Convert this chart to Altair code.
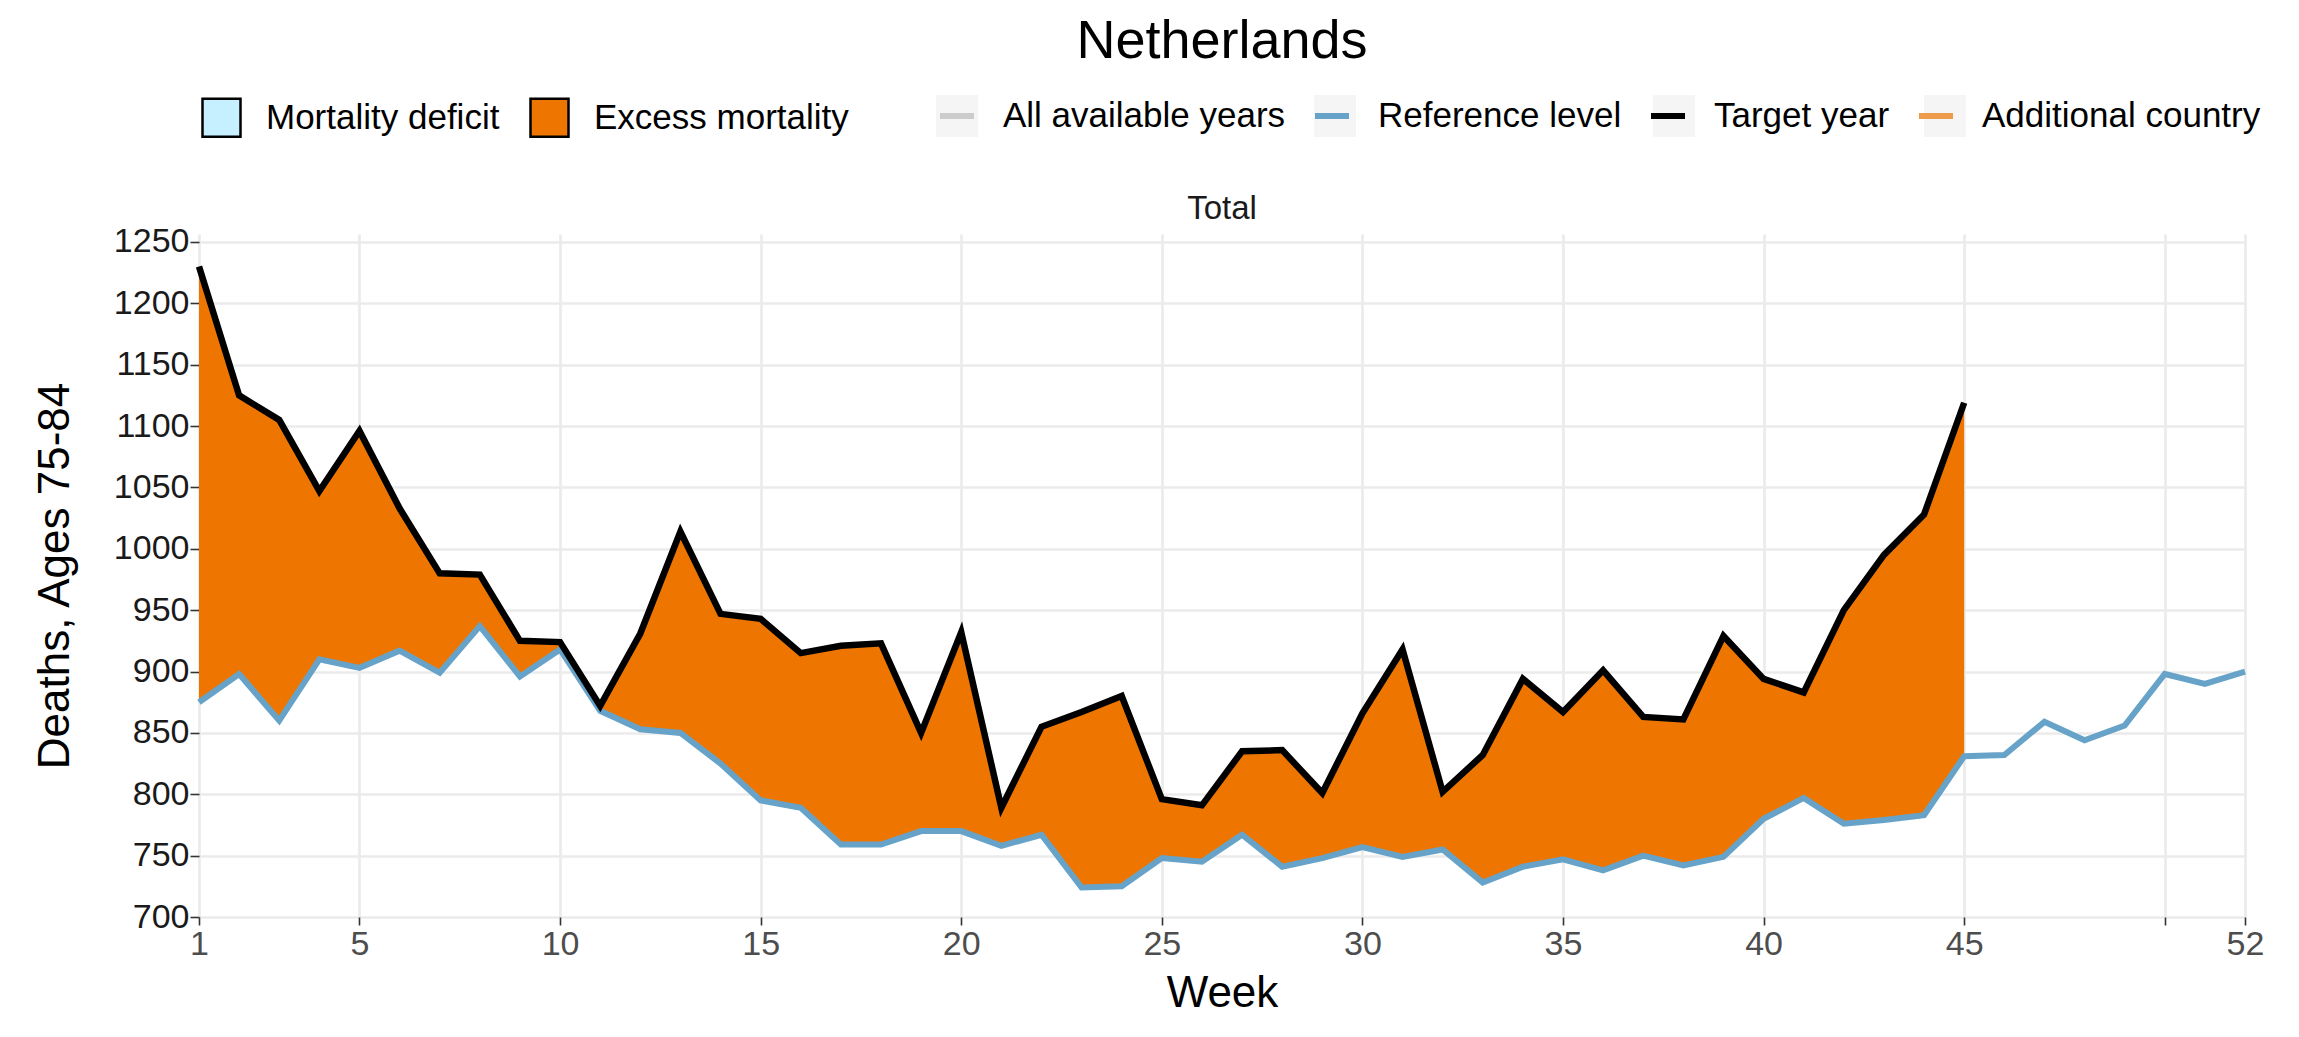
import altair as alt
import pandas as pd

# ---------------- data ----------------
weeks_all = list(range(1, 53))
weeks_target = list(range(1, 46))
reference_level = [875, 898, 860, 910, 903, 917, 899, 937, 896, 918,
                   868, 853, 850, 825, 795, 789, 759, 759, 770, 770,
                   758, 767, 724, 725, 748, 745, 767, 741, 748, 757,
                   749, 755, 728, 741, 747, 738, 750, 742, 749, 780,
                   797, 776, 779, 783, 831, 832, 859, 844, 856, 898,
                   890, 900]
target_year = [1230, 1125, 1105, 1047, 1096, 1033, 980, 979, 925, 924,
               872, 931, 1014, 947, 943, 915, 921, 923, 850, 932,
               789, 855, 867, 880, 796, 791, 835, 836, 801, 866,
               918, 802, 832, 894, 867, 901, 863, 861, 929, 894,
               883, 950, 995, 1028, 1119]

fill_types = ["Mortality deficit", "Excess mortality"]
fill_colors = ["#c6efff", "#ee7600"]
line_series = ["All available years", "Reference level", "Target year", "Additional country"]
line_colors = ["#cccccc", "#67a3c9", "#000000", "#ee9b4b"]
x_ticks = [1, 5, 10, 15, 20, 25, 30, 35, 40, 45, 50, 52]
y_ticks = [700, 750, 800, 850, 900, 950, 1000, 1050, 1100, 1150, 1200, 1250]
title_text = ["Netherlands"]
panel_label = ["Total"]
x_title = "Week"
y_title = "Deaths, Ages 75-84"

# ---------------- tables ----------------
ref_df = pd.DataFrame({"week": weeks_all, "deaths": reference_level,
                       "series": "Reference level"})
tgt_df = pd.DataFrame({"week": weeks_target, "deaths": target_year,
                       "series": "Target year"})
rows = []
for w, t, r in zip(weeks_target, target_year, reference_level):
    rows.append({"week": w, "lo": r, "hi": max(t, r), "type": "Excess mortality"})
    rows.append({"week": w, "lo": min(t, r), "hi": r, "type": "Mortality deficit"})
area_df = pd.DataFrame(rows)
bg_domain = [s + " " for s in line_series]
bg_df = pd.DataFrame({"week": pd.Series([], dtype=float),
                      "deaths": pd.Series([], dtype=float),
                      "key": pd.Series([], dtype=str)})
panel_df = pd.DataFrame({"label": panel_label})
title_df = pd.DataFrame({"label": title_text})

FONT = "Liberation Sans"
W, H = 2046, 683

x_scale = alt.Scale(domain=[1, 52], nice=False, zero=False)
y_scale = alt.Scale(domain=[700, 1256.5], nice=False, zero=False)
x_axis = alt.Axis(values=x_ticks, format="d",
                  labelExpr="datum.value == 50 ? '' : datum.label",
                  labelFlush=False, labelOverlap=False,
                  labelColor="#4d4d4d", labelFontSize=34, labelPadding=2,
                  tickSize=8, titleFontSize=44, titleFontWeight="normal",
                  titleColor="black", titleX=W / 2, titleY=89,
                  titleBaseline="alphabetic", titleAlign="center")
y_axis = alt.Axis(values=y_ticks, format="d", labelColor="#1a1a1a",
                  labelFlush=False, labelOverlap=False,
                  labelFontSize=34, labelPadding=1, tickSize=9,
                  titleFontSize=44, titleFontWeight="normal", titleColor="black",
                  titleAngle=270, titleX=-131, titleY=H / 2,
                  titleBaseline="alphabetic", titleAlign="center")


def xenc():
    return alt.X("week:Q", scale=x_scale, axis=x_axis, title=x_title)


def yenc(field):
    return alt.Y(f"{field}:Q", scale=y_scale, axis=y_axis, title=y_title)


common_legend = dict(orient="none", direction="horizontal", title=None,
                     labelFont=FONT, labelFontSize=35, labelColor="black",
                     labelLimit=0, padding=0)

# line keys: 42px symbol box + 6px stroke -> 48px layout width
stroke_legend = alt.Legend(symbolType="M-0.81,0H0.81", symbolSize=1764,
                           symbolStrokeWidth=6, legendX=734, legendY=-142,
                           labelOffset=22, columnPadding=16, **common_legend)

bg_layer = alt.Chart(bg_df).mark_point(filled=True, shape="square",
                                       color="#f2f2f2").encode(
    x=xenc(), y=yenc("deaths"),
    shape=alt.Shape("key:N", scale=alt.Scale(domain=bg_domain, range=["square"] * 4),
                    legend=alt.Legend(symbolType="square", symbolSize=1764,
                                      symbolFillColor="#f2f2f2",
                                      symbolStrokeColor="transparent",
                                      symbolStrokeWidth=6,
                                      labelExpr="trim(datum.label)", labelOpacity=0,
                                      legendX=734, legendY=-142, labelOffset=22,
                                      columnPadding=16, **common_legend)))

area_layer = alt.Chart(area_df).mark_area(interpolate="linear").encode(
    x=xenc(), y=yenc("lo"), y2="hi:Q",
    fill=alt.Fill("type:N", scale=alt.Scale(domain=fill_types, range=fill_colors),
                  legend=alt.Legend(symbolType="square", symbolSize=1444,
                                    symbolStrokeColor="black", symbolStrokeWidth=2.5,
                                    symbolOpacity=1, labelOffset=24, columnPadding=25,
                                    legendX=2, legendY=-137, **common_legend)))

ref_layer = alt.Chart(ref_df).mark_line(strokeWidth=6).encode(
    x=xenc(), y=yenc("deaths"),
    stroke=alt.Stroke("series:N", scale=alt.Scale(domain=line_series, range=line_colors),
                      legend=stroke_legend))

tgt_layer = alt.Chart(tgt_df).mark_line(strokeWidth=6.5).encode(
    x=xenc(), y=yenc("deaths"),
    stroke=alt.Stroke("series:N", scale=alt.Scale(domain=line_series, range=line_colors),
                      legend=stroke_legend))

panel_layer = alt.Chart(panel_df).mark_text(font=FONT, fontSize=33, color="#1a1a1a",
                                            baseline="alphabetic", align="center").encode(
    x=alt.value(W / 2), y=alt.value(-15), text="label:N")

title_layer = alt.Chart(title_df).mark_text(font=FONT, fontSize=54, color="black",
                                            baseline="alphabetic", align="center").encode(
    x=alt.value(W / 2), y=alt.value(-176), text="label:N")

chart = alt.layer(bg_layer, area_layer, ref_layer, tgt_layer, panel_layer,
                  title_layer).properties(
    width=W, height=H,
    padding={"left": 191, "top": 226, "right": 40, "bottom": 100},
    autosize=alt.AutoSizeParams(type="none"),
).configure(font=FONT).configure_view(stroke=None).configure_axis(
    domain=False, grid=True, gridColor="#ebebeb", gridWidth=2.7,
    tickColor="#333333", tickWidth=1.6, labelFont=FONT, titleFont=FONT,
).resolve_scale(stroke="shared")

chart.save("out.html", embed_options={"renderer": "svg", "actions": False})
